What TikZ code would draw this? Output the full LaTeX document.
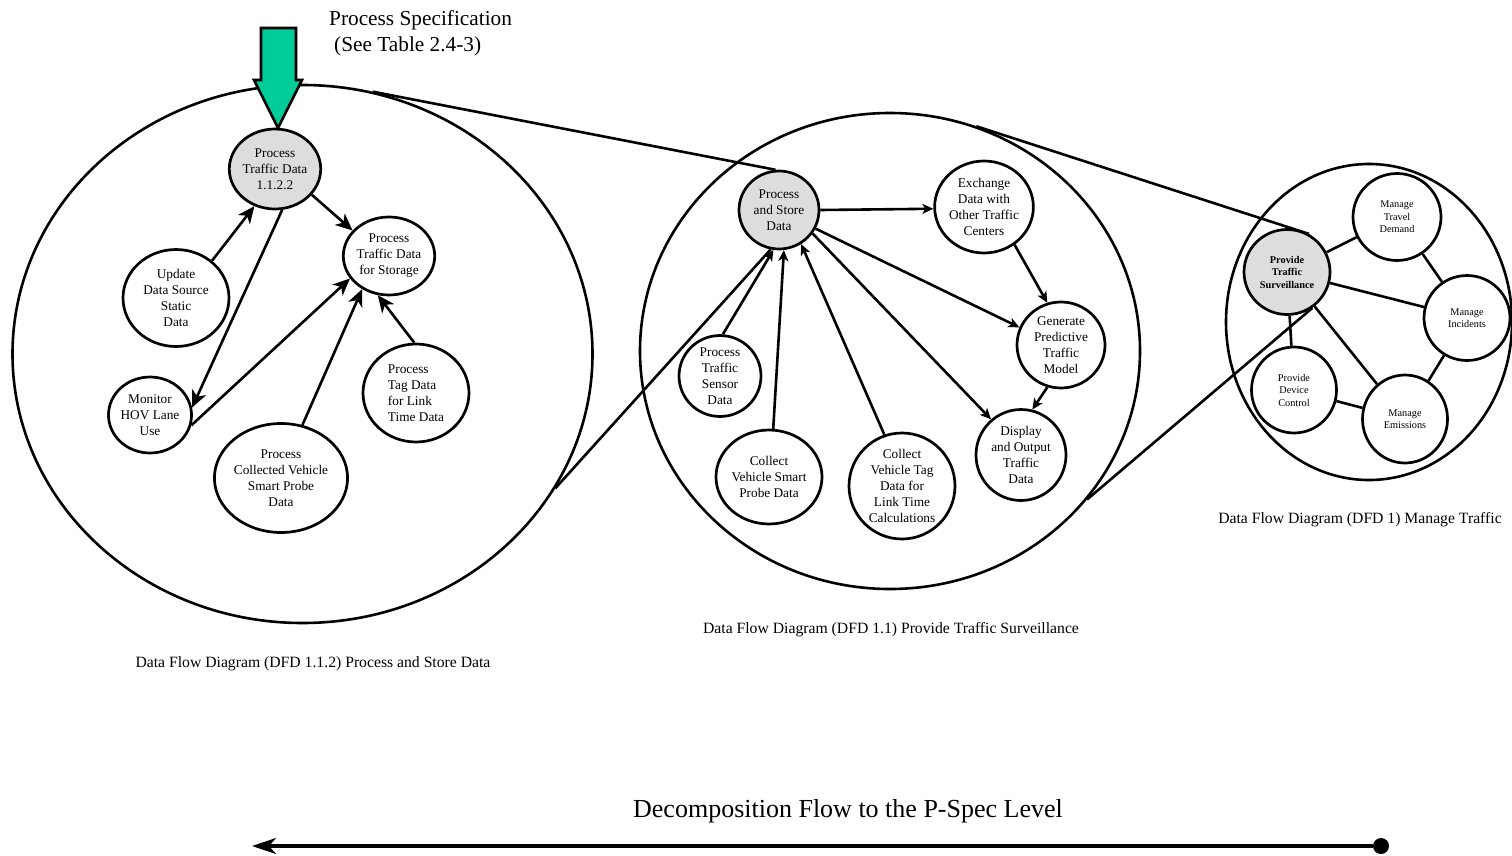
\documentclass[tikz,border=0pt]{standalone}
\usepackage{fontspec}
\setmainfont{Liberation Serif}
\usetikzlibrary{shapes.geometric,arrows.meta}
\definecolor{specgreen}{RGB}{0,204,153}
\definecolor{procgray}{RGB}{221,221,221}
\tikzset{
  dfd/.style={ellipse, draw, line width=2.6pt, inner sep=0pt},
  proc/.style={ellipse, draw, line width=2.7pt, inner sep=0pt, align=center, font=\fontsize{13.3}{16}\selectfont},
  procsel/.style={proc, fill=procgray},
  mini/.style={proc, font=\fontsize{10.3}{12.5}\selectfont},
  flow/.style={line width=2.6pt, -{Stealth[length=17pt,width=15pt,inset=5pt]}},
  flowsm/.style={line width=2.6pt, -{Stealth[length=11pt,width=10pt,inset=3pt]}},
  link/.style={line width=2.6pt},
  caption/.style={anchor=base, inner sep=0pt, font=\fontsize{15.7}{18}\selectfont},
  bigtext/.style={anchor=base west, inner sep=0pt, font=\fontsize{21.3}{26}\selectfont}
}
\begin{document}
\begin{tikzpicture}[x=1pt,y=1pt,yscale=-1,xscale=1]
\useasboundingbox (0,0) rectangle (1512,856);

%Ellipses
\node [dfd, minimum width=580pt, minimum height=538pt] (dfdA) at (302.5,354) {};
\node [dfd, minimum width=500pt, minimum height=476pt] (dfdB) at (890,351) {};
\node [dfd, minimum width=286pt, minimum height=316pt] (dfdC) at (1369,322) {};

% DFD 1.1.2 processes
\node [procsel, minimum width=78pt, minimum height=80pt] (ptd) at (275,169) {Process\\Traffic Data\\1.1.2.2};
\node [proc, minimum width=82pt, minimum height=78pt] (store) at (389,256) {Process\\Traffic Data\\for Storage};
\node [proc, minimum width=106pt, minimum height=97pt] (upd) at (176,298) {Update\\Data Source\\Static\\Data};
\node [proc, minimum width=81pt, minimum height=76pt] (hov) at (150,415) {Monitor\\HOV Lane\\Use};
\node [proc, minimum width=121pt, minimum height=109pt] (probe) at (281,478) {Process\\Collected Vehicle\\Smart Probe\\Data};
\node [proc, align=left, minimum width=106pt, minimum height=98pt] (tag) at (416,393) {Process\\Tag Data\\for Link\\Time Data};

% DFD 1.1 processes
\node [procsel, minimum width=80pt, minimum height=78pt] (pas) at (779,210) {Process\\and Store\\Data};
\node [proc, minimum width=94pt, minimum height=92pt] (xch) at (984,207) {Exchange\\Data with\\Other Traffic\\Centers};
\node [proc, minimum width=88pt, minimum height=86pt] (gen) at (1061,345) {Generate\\Predictive\\Traffic\\Model};
\node [proc, minimum width=82pt, minimum height=81pt] (sens) at (720,376) {Process\\Traffic\\Sensor\\Data};
\node [proc, minimum width=90pt, minimum height=91pt] (disp) at (1021,455) {Display\\and Output\\Traffic\\Data};
\node [proc, minimum width=96pt, minimum height=94pt] (cprobe) at (769,477) {Collect\\Vehicle Smart\\Probe Data};
\node [proc, minimum width=106pt, minimum height=106pt] (ctag) at (902,486) {Collect\\Vehicle Tag\\Data for\\Link Time\\Calculations};

% DFD 1 processes
\node [mini, fill=procgray, font=\fontsize{10.3}{12.5}\selectfont\bfseries, minimum width=86pt, minimum height=85pt] (pts) at (1287,272) {Provide\\Traffic\\Surveillance};
\node [mini, minimum width=88pt, minimum height=87pt] (mtd) at (1397,217) {Manage\\Travel\\Demand};
\node [mini, minimum width=86pt, minimum height=85pt] (minc) at (1467,318) {Manage\\Incidents};
\node [mini, minimum width=85pt, minimum height=86pt] (pdc) at (1294,390) {Provide\\Device\\Control};
\node [mini, minimum width=85pt, minimum height=88pt] (mem) at (1405,419) {Manage\\Emissions};

%Straight Lines between levels
\draw [link] (dfdA.75) -- (pas.95);
\draw [link] (dfdA.-28) -- (pas.-102);
\draw [link] (dfdB.69) -- (pts.60);
\draw [link] (dfdB.-37) -- (pts.-55);

%Straight Lines DFD 1.1.2
\draw [flow] (upd.46) -- (ptd.-119);
\draw [flow] (ptd.-80) -- (hov.10);
\draw [flow] (ptd.-35) -- (store.145);
\draw [flow] (hov.-14) -- (store.210);
\draw [flow] (probe.68) -- (store.231);
\draw [flow] (tag.92) -- (store.-106);

%Straight Lines DFD 1.1
\draw [flowsm] (pas.east) -- (xch.182);
\draw [flowsm] (pas.-27) -- (gen.157);
\draw [flowsm] (pas.-35) -- (disp.130);
\draw [flowsm] (xch.-51) -- (gen.108);
\draw [flowsm] (gen.-108) -- (disp.76);
\draw [flowsm] (sens.86) -- (pas.-98);
\draw [flowsm] (cprobe.85) -- (pas.-83);
\draw [flowsm] (ctag.109) -- (pas.-57);

%Straight Lines DFD 1
\draw [link] (pts) -- (mtd);
\draw [link] (mtd) -- (minc);
\draw [link] (pts) -- (minc);
\draw [link] (pts) -- (pdc);
\draw [link] (pts) -- (mem);
\draw [link] (pdc) -- (mem);
\draw [link] (minc) -- (mem);

%Process specification arrow
\draw [line width=2.6pt, fill=specgreen, line join=miter] (261,28) -- (296,28) -- (296,80) -- (302,80) -- (278,128) -- (254,80) -- (261,80) -- cycle;

%Decomposition arrow
\node [circle, fill, inner sep=0pt, minimum size=16pt] (pend) at (1381,846) {};
\coordinate (pflow) at (252,846);
\draw [line width=3.3pt, -{Stealth[length=24pt,width=16pt,inset=7pt]}] (pend) -- (pflow);

% Text Node
\node [bigtext] (spec1) at (329,26) {Process Specification};
% Text Node
\node [bigtext] (spec2) at (334,52) {(See Table 2.4-3)};
% Text Node
\node [caption] (capA) at (313,667) {Data Flow Diagram (DFD 1.1.2) Process and Store Data};
% Text Node
\node [caption] (capB) at (891,633) {Data Flow Diagram (DFD 1.1) Provide Traffic Surveillance};
% Text Node
\node [caption] (capC) at (1360,523) {Data Flow Diagram (DFD 1) Manage Traffic};
% Text Node
\node [anchor=base, inner sep=0pt, font=\fontsize{26}{30}\selectfont] (decomp) at (848,817) {Decomposition Flow to the P-Spec Level};
\end{tikzpicture}
\end{document}
